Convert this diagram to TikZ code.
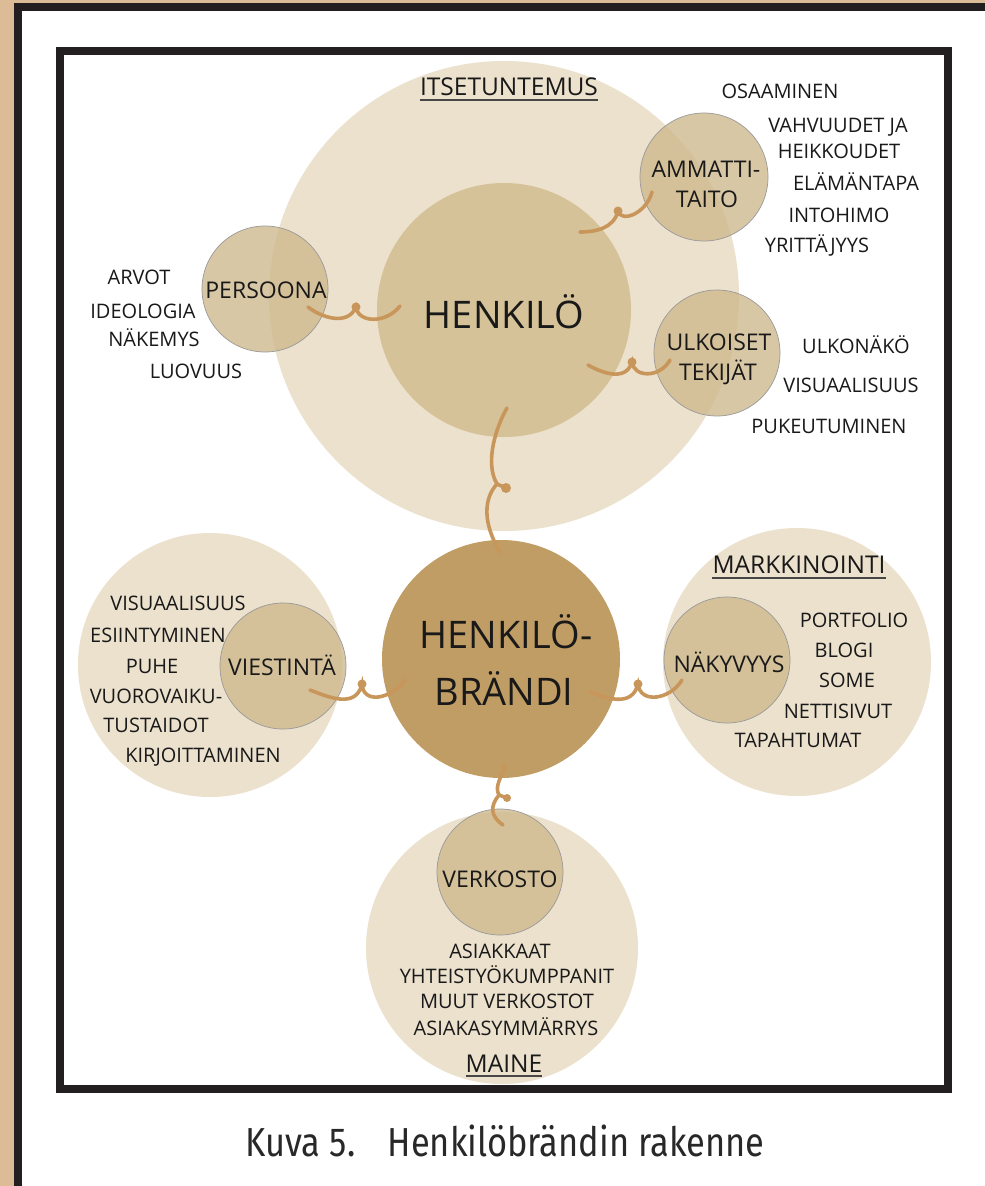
\documentclass[tikz,border=0pt]{standalone}
\usepackage{fontspec}
\setmainfont{Open Sans}
\newfontfamily\capfont{Fira Sans}[FakeStretch=0.85]
\definecolor{tanstrip}{RGB}{220,188,150}
\definecolor{frameblk}{RGB}{35,31,32}
\definecolor{light}{RGB}{235,225,205}
\definecolor{mid}{RGB}{214,194,152}
\definecolor{midt}{RGB}{206,184,140}
\definecolor{brand}{RGB}{192,157,100}
\definecolor{conncol}{RGB}{200,150,90}
\definecolor{txt}{RGB}{25,25,25}
\definecolor{captxt}{RGB}{40,40,40}
\begin{document}
\begin{tikzpicture}[x=1pt,y=-1pt,
  outerc/.style={circle, fill=light, draw=none, inner sep=0, minimum size=#1},
  midc/.style={circle, fill=mid, draw=none, inner sep=0, minimum size=#1},
  smallc/.style={circle, fill=midt, fill opacity=0.78, draw=gray!80, line width=0.7pt, inner sep=0, minimum size=#1},
  lst/.style={anchor=base, inner sep=0, text=txt, font=\fontsize{20}{24}\selectfont},
  lbl/.style={anchor=base, inner sep=0, text=txt, font=\fontsize{23}{27}\selectfont},
  hdr/.style={anchor=base, inner sep=0, text=txt, font=\fontsize{24.5}{29}\selectfont},
  bigt/.style={anchor=base, inner sep=0, text=txt, font=\fontsize{38}{45}\selectfont},
  conn/.style={draw=conncol, line width=3.6pt, line cap=round},
  ul/.style={draw=txt!80, line width=1.2pt}
]
\useasboundingbox (0,0) rectangle (985,1186);
\fill[white] (0,0) rectangle (985,1186);
% page edges
\fill[tanstrip] (0,0) rectangle (14,1186);
\fill[tanstrip] (0,0) rectangle (985,3);
\fill[frameblk] (14,3) rectangle (22,1186);
\fill[frameblk] (14,3) rectangle (985,11);

\begin{scope}
\clip (60,51) rectangle (948,1089);
% big circles
\node[outerc=470pt] (itse) at (504,296) {};
\node[midc=254pt] (henkilo) at (504,310) {};
\node[outerc=264pt] (viestO) at (210,665) {};
\node[outerc=268pt] (markO) at (797,662) {};
\node[outerc=272pt] (verkO) at (502,948) {};
\node[circle, fill=brand, inner sep=0, minimum size=238pt] (brandi) at (501,659) {};
% small circles
\node[smallc=126pt] (persoona) at (265,289) {};
\node[smallc=128pt] (ammatti) at (704,177) {};
\node[smallc=126pt] (ulko) at (717,353) {};
\node[smallc=126pt] (viest) at (283,666) {};
\node[smallc=126pt] (nak) at (727,660) {};
\node[smallc=126pt] (verk) at (500,872) {};
\end{scope}

% connectors
\coordinate (c1a) at (308,307); \coordinate (c1k) at (356,307); \coordinate (c1b) at (400,306);
\draw[conn] (c1a) .. controls (322,318) and (348,326) .. (c1k) .. controls (358,323) and (386,324) .. (c1b);
\fill[conncol] (c1k) circle[radius=4.5];

\coordinate (c2a) at (580,232); \coordinate (c2k) at (618,211); \coordinate (c2b) at (652,192);
\draw[conn] (c2a) .. controls (596,232) and (614,228) .. (c2k) .. controls (621,223) and (646,214) .. (c2b);
\fill[conncol] (c2k) circle[radius=4.5];

\coordinate (c3a) at (588,365); \coordinate (c3k) at (632,362); \coordinate (c3b) at (670,360);
\draw[conn] (c3a) .. controls (602,373) and (626,382) .. (c3k) .. controls (634,378) and (660,378) .. (c3b);
\fill[conncol] (c3k) circle[radius=4.5];

\coordinate (c4a) at (507,408); \coordinate (c4k) at (497,484); \coordinate (c4b) at (500,552);
\draw[conn] (c4a) .. controls (497,425) and (484,462) .. (c4k) .. controls (484,498) and (482,522) .. (c4b);
\fill[conncol] (506,488) circle[radius=5];
\draw[conn] (c4k) -- (506,488);

\coordinate (c5a) at (310,690); \coordinate (c5k) at (362,684); \coordinate (c5b) at (405,680);
\draw[conn] (c5a) .. controls (326,696) and (356,710) .. (c5k) .. controls (363,704) and (390,700) .. (c5b);
\fill[conncol] (c5k) circle[radius=4.5];

\coordinate (c6a) at (590,692); \coordinate (c6k) at (638,684); \coordinate (c6b) at (682,680);
\draw[conn] (c6a) .. controls (606,698) and (632,708) .. (c6k) .. controls (640,704) and (670,700) .. (c6b);
\fill[conncol] (c6k) circle[radius=4.5];

\coordinate (c7a) at (505,765); \coordinate (c7k) at (499,795); \coordinate (c7b) at (503,825);
\draw[conn] (c7a) .. controls (502,777) and (494,786) .. (c7k) .. controls (490,806) and (490,816) .. (c7b);
\fill[conncol] (507,798) circle[radius=4];
\draw[conn] (c7k) -- (507,798);

% main labels
\node[hdr] (itseT) at (509,95) {ITSETUNTEMUS};
\draw[ul] ([yshift=-5pt]itseT.base west) -- ([yshift=-5pt]itseT.base east);
\node[bigt] (henkT) at (504,328) {HENKILÖ};
\node[bigt] (brand1) at (506,648) {HENKILÖ-};
\node[bigt] (brand2) at (504,705) {BRÄNDI};

% small circle labels
\node[lbl] (persT) at (266,298) {PERSOONA};
\node[lbl] (amm1) at (706,177) {AMMATTI-};
\node[lbl] (amm2) at (707,207) {TAITO};
\node[lbl] (ulk1) at (719,350) {ULKOISET};
\node[lbl] (ulk2) at (718,380) {TEKIJÄT};
\node[lbl] (viestT) at (282,675) {VIESTINTÄ};
\node[lbl] (nakT) at (729,672) {NÄKYVYYS};
\node[lbl] (verkT) at (500,887) {VERKOSTO};

% lists
\node[lst] (l1) at (139,284) {ARVOT};
\node[lst] (l2) at (143,318) {IDEOLOGIA};
\node[lst] (l3) at (154,346) {NÄKEMYS};
\node[lst] (l4) at (196,378) {LUOVUUS};

\node[lst] (r1) at (780,98) {OSAAMINEN};
\node[lst] (r2) at (838,132) {VAHVUUDET JA};
\node[lst] (r3) at (839,158) {HEIKKOUDET};
\node[lst] (r4) at (856,190) {ELÄMÄNTAPA};
\node[lst] (r5) at (839,222) {INTOHIMO};
\node[lst] (r6) at (817,252) {YRITTÄJYYS};

\node[lst] (u1) at (856,353) {ULKONÄKÖ};
\node[lst] (u2) at (851,392) {VISUAALISUUS};
\node[lst] (u3) at (829,433) {PUKEUTUMINEN};

\node[lst] (v1) at (178,610) {VISUAALISUUS};
\node[lst] (v2) at (158,642) {ESIINTYMINEN};
\node[lst] (v3) at (152,673) {PUHE};
\node[lst] (v4) at (156,703) {VUOROVAIKU-};
\node[lst] (v5) at (156,732) {TUSTAIDOT};
\node[lst] (v6) at (203,762) {KIRJOITTAMINEN};

\node[hdr] (markT) at (799,573) {MARKKINOINTI};
\draw[ul] ([yshift=-5pt]markT.base west) -- ([yshift=-5pt]markT.base east);
\node[lst] (m1) at (854,627) {PORTFOLIO};
\node[lst] (m2) at (844,657) {BLOGI};
\node[lst] (m3) at (847,687) {SOME};
\node[lst] (m4) at (838,718) {NETTISIVUT};
\node[lst] (m5) at (798,747) {TAPAHTUMAT};

\node[lst] (b1) at (500,958) {ASIAKKAAT};
\node[lst] (b2) at (507,983) {YHTEISTYÖKUMPPANIT};
\node[lst] (b3) at (507,1008) {MUUT VERKOSTOT};
\node[lst] (b4) at (506,1035) {ASIAKASYMMÄRRYS};
\node[hdr] (maineT) at (504,1072) {MAINE};
\draw[ul] ([yshift=-4pt]maineT.base west) -- ([yshift=-4pt]maineT.base east);

% inner frame
\draw[frameblk, line width=8pt] (60,51) rectangle (948,1089);

% caption
\node[anchor=base, inner sep=0, text=captxt, font=\capfont\fontsize{40.5}{48}\selectfont] (cap) at (505,1156) {Kuva 5.\hspace{0.8em}Henkilöbrändin rakenne};
\end{tikzpicture}
\end{document}
